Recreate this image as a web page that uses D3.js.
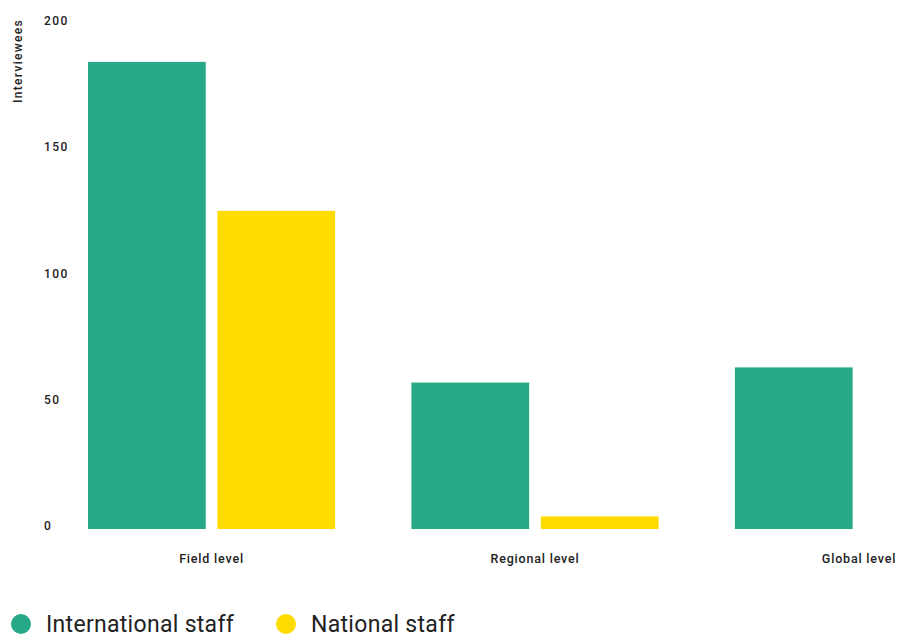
<!DOCTYPE html>
<html>
<head>
<meta charset="utf-8">
<script src="https://cdn.jsdelivr.net/npm/d3@7"></script>
<style>
  body { margin: 0; background: #fff; }
  text { font-family: Roboto, "Noto Sans", sans-serif; }
</style>
</head>
<body>
<div id="chart"></div>
<script>
// data
var levels = ["Field level", "Regional level", "Global level"];
var seriesNames = ["International staff", "National staff"];
var international = [185, 58, 64];
var national = [126, 5, 0];
var yTicks = [0, 50, 100, 150, 200];
var colors = ["#27a887", "#ffdc00"];

var width = 901, height = 638;

var svg = d3.select("#chart")
  .append("svg")
  .attr("width", width)
  .attr("height", height);

var rows = levels.map(function(l, i){
  return { level: l, values: [international[i], national[i]] };
});

// groups run past the right edge, like the original
var x0 = d3.scaleBand()
  .domain(levels)
  .range([88, 982])
  .paddingInner(0.236)
  .paddingOuter(0);

var x1 = d3.scaleBand()
  .domain(seriesNames)
  .range([0, x0.bandwidth()])
  .paddingInner(0.09)
  .paddingOuter(0);

var y = d3.scaleLinear()
  .domain([0, 200])
  .range([529, 24]);

// y tick labels, left aligned, no axis line
svg.append("g").selectAll("text")
  .data(yTicks)
  .enter()
  .append("text")
  .attr("x", 44)
  .attr("y", function(d){ return y(d); })
  .attr("dy", "0.1em")
  .attr("font-size", 12)
  .attr("font-weight", 500)
  .attr("letter-spacing", 1.4)
  .attr("fill", "#222")
  .text(function(d){ return d; });

svg.append("text")
  .attr("transform", "translate(22,61) rotate(-90)")
  .attr("text-anchor", "middle")
  .attr("font-size", 12)
  .attr("font-weight", 500)
  .attr("letter-spacing", 1.3)
  .attr("fill", "#222")
  .text("Interviewees");

var g = svg.selectAll(".group")
  .data(rows)
  .enter()
  .append("g")
  .attr("class", "group")
  .attr("transform", function(d){ return "translate(" + x0(d.level) + ",0)"; });

g.selectAll("rect")
  .data(function(d){ return d.values.map(function(v, i){ return { key: seriesNames[i], value: v, i: i }; }); })
  .enter()
  .append("rect")
  .attr("x", function(d){ return x1(d.key); })
  .attr("y", function(d){ return y(d.value); })
  .attr("width", x1.bandwidth())
  .attr("height", function(d){ return y(0) - y(d.value); })
  .attr("fill", function(d){ return colors[d.i]; });

// x labels
svg.append("g").selectAll("text")
  .data(levels)
  .enter()
  .append("text")
  .attr("x", function(d, i){ return i == 2 ? 859 : x0(d) + x0.bandwidth() / 2; })
  .attr("y", 563)
  .attr("text-anchor", "middle")
  .attr("font-size", 12.5)
  .attr("font-weight", 500)
  .attr("letter-spacing", 0.8)
  .attr("fill", "#222")
  .text(function(d){ return d; });

// legend (nudged up a little so the text is not clipped)
var legendX = [21, 286];
var legend = svg.selectAll(".legend")
  .data(seriesNames)
  .enter()
  .append("g")
  .attr("class", "legend")
  .attr("transform", function(d, i){ return "translate(" + legendX[i] + ",624)"; });

legend.append("circle")
  .attr("r", 10)
  .attr("fill", function(d, i){ return colors[i]; });

legend.append("text")
  .attr("x", 25)
  .attr("y", 8)
  .attr("font-size", 23)
  .attr("letter-spacing", 0.3)
  .attr("fill", "#222")
  .text(function(d){ return d; });
</script>
</body>
</html>
